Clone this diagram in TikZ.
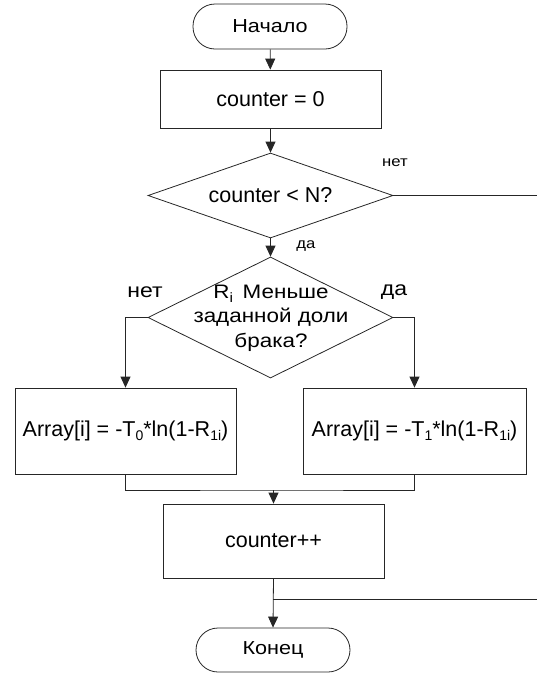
\documentclass[tikz,border=0pt]{standalone}
\usepackage{fontspec}
\setmainfont{Liberation Sans}
\newfontfamily\cyrwide[FakeStretch=1.15]{Liberation Sans}
\usetikzlibrary{shapes.geometric,arrows.meta}
\newcommand{\lowsub}[1]{\raisebox{-0.35ex}{\fontsize{14}{14}\selectfont #1}}
\newcommand{\lowsubb}[1]{\raisebox{-0.4ex}{\fontsize{13.5}{13.5}\selectfont #1}}
\begin{document}
\begin{tikzpicture}[x=1pt,y=-1pt,
  base/.style={font=\fontsize{21.5}{24.5}\selectfont, inner sep=0pt, line width=0.8pt, draw=black!85},
  term/.style={base, draw, font=\cyrwide\fontsize{18.8}{22}\selectfont, rounded corners=22pt, minimum width=154pt, minimum height=45pt},
  procbox/.style={base, draw},
  dec/.style={draw=black!85, line width=0.8pt, diamond, inner sep=0pt, minimum width=245pt},
  txt/.style={font=\fontsize{21.5}{24.5}\selectfont, inner sep=0pt, align=center},
  bigtxt/.style={font=\cyrwide\fontsize{19.5}{24.5}\selectfont, inner sep=0pt, align=center},
  smalllab/.style={font=\cyrwide\fontsize{14.5}{18}\selectfont, inner sep=0pt},
  biglab/.style={font=\cyrwide\fontsize{20}{22}\selectfont, inner sep=0pt},
  conn/.style={line width=0.8pt, draw=black!85},
  arr/.style={conn, -{Triangle[length=11pt,width=10pt]}}]
\useasboundingbox (0,0) rectangle (537,673);

\node[term] (start) at (270,26.5) {Начало};
\node[procbox, minimum width=221pt, minimum height=58pt] (init) at (270.5,99) {counter = 0};
\node[dec, minimum height=85pt] (d1) at (270.5,195.5) {};
\node[txt] (d1t) at (d1) {counter < N?};
\node[dec, minimum height=121pt] (d2) at (270.5,317.5) {};
\node[bigtxt] (d2t) at (271,318) {R\lowsubb{i}\hspace{0.5em}Меньше\\заданной доли\\брака?};
\node[procbox, minimum width=221pt, minimum height=86pt] (boxl) at (125.5,431) {Array[i] = -T\lowsub{0}*ln(1-R\lowsub{1i})};
\node[procbox, minimum width=223pt, minimum height=86pt] (boxr) at (414.5,431) {Array[i] = -T\lowsub{1}*ln(1-R\lowsub{1i})};
\node[procbox, minimum width=221pt, minimum height=74pt] (inc) at (273.5,541) {counter++};
\node[term, minimum height=44pt] (end) at (273,650) {Конец};

\coordinate (exit1) at (537,195.5);
\coordinate (merge) at (273.5,490);
\coordinate (split) at (273,599);
\coordinate (exit2) at (537,599);

\draw[arr] (start) -- (init);
\draw[arr] (init) -- (d1);
\draw[conn] (d1.east) -- (exit1);
\draw[arr] (d1) -- (d2);
\draw[arr] (d2.west) -| (boxl.north);
\draw[arr] (d2.east) -| (boxr.north);
\draw[conn] (boxl.south) |- (merge) -| (boxr.south);
\draw[arr] (merge) -- (inc.north);
\draw[arr] (inc.south) -- (end.north);
\draw[conn] (split) -- (exit2);

\node[smalllab] (lno1) at (395,163) {нет};
\node[smalllab] (lyes1) at (306,246) {да};
\node[biglab] (lno2) at (145,292) {нет};
\node[biglab] (lyes2) at (394,292) {да};
\end{tikzpicture}
\end{document}
